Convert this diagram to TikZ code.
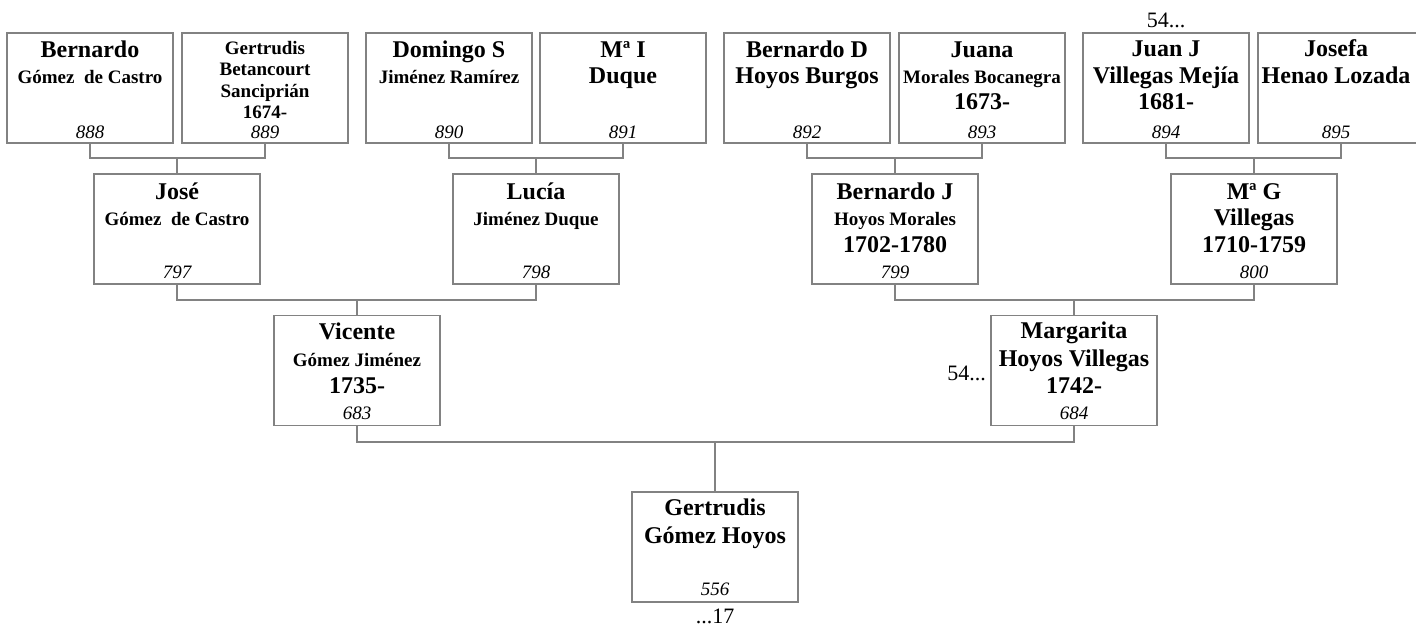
\documentclass[tikz,border=0pt]{standalone}
\usepackage{fontspec}
\setmainfont{Liberation Serif}
\definecolor{edge}{RGB}{130,130,130}
\tikzset{
  pbox/.style={draw=edge,line width=1.4pt,minimum width=166pt,minimum height=110pt,inner sep=0pt,fill=white},
  big/.style={font=\fontsize{24}{26}\selectfont\bfseries,anchor=base,inner sep=0pt},
  small/.style={font=\fontsize{19}{21}\selectfont\bfseries,anchor=base,inner sep=0pt},
  num/.style={font=\fontsize{19}{21}\selectfont\itshape,anchor=base,inner sep=0pt},
  plain/.style={font=\fontsize{22}{24}\selectfont,anchor=base,inner sep=0pt},
  conn/.style={draw=edge,line width=1.4pt}
}
\begin{document}
\begin{tikzpicture}[x=1pt,y=-1pt]
\useasboundingbox (0,0) rectangle (1416,626);
% ---- row 1
\node[pbox] (p888) at (90,88) {};
\node[pbox] (p889) at (265,88) {};
\node[pbox] (p890) at (449,88) {};
\node[pbox] (p891) at (623,88) {};
\node[pbox] (p892) at (807,88) {};
\node[pbox] (p893) at (982,88) {};
\node[pbox] (p894) at (1166,88) {};
\node[pbox] (p895) at (1341,88) {};
% ---- row 2
\node[pbox] (p797) at (177,229) {};
\node[pbox] (p798) at (536,229) {};
\node[pbox] (p799) at (895,229) {};
\node[pbox] (p800) at (1254,229) {};
% ---- row 3
\node[pbox] (p683) at (357,370.5) {};
\node[pbox] (p684) at (1074,370.5) {};
% ---- row 4
\node[pbox] (p556) at (715,547) {};
% ---- junctions
\coordinate (j1) at (177,158);
\coordinate (j2) at (536,158);
\coordinate (j3) at (895,158);
\coordinate (j4) at (1254,158);
\coordinate (j5) at (357,300);
\coordinate (j6) at (1074,300);
\coordinate (j7) at (715,442);
\draw[conn] (p888.south) |- (j1) -| (p889.south);
\draw[conn] (j1) -- (p797.north);
\draw[conn] (p890.south) |- (j2) -| (p891.south);
\draw[conn] (j2) -- (p798.north);
\draw[conn] (p892.south) |- (j3) -| (p893.south);
\draw[conn] (j3) -- (p799.north);
\draw[conn] (p894.south) |- (j4) -| (p895.south);
\draw[conn] (j4) -- (p800.north);
\draw[conn] (p797.south) |- (j5) -| (p798.south);
\draw[conn] (j5) -- (p683.north);
\draw[conn] (p799.south) |- (j6) -| (p800.south);
\draw[conn] (j6) -- (p684.north);
\draw[conn] (p683.south) |- (j7) -| (p684.south);
\draw[conn] (j7) -- (p556.north);
% ---- texts row 1
\node[big] (t888a) at (90,58) {Bernardo};
\node[small] (t888b) at (90,83) {Gómez\ \ de Castro};
\node[num] (t888n) at (90,138) {888};
\node[small] (t889a) at (265,55) {Gertrudis};
\node[small] (t889b) at (265,76) {Betancourt};
\node[small] (t889c) at (265,97) {Sanciprián};
\node[small] (t889d) at (265,118) {1674-};
\node[num] (t889n) at (265,138) {889};
\node[big] (t890a) at (449,58) {Domingo S};
\node[small] (t890b) at (449,83) {Jiménez Ramírez};
\node[num] (t890n) at (449,138) {890};
\node[big] (t891a) at (623,58) {Mª I};
\node[big] (t891b) at (623,83) {Duque};
\node[num] (t891n) at (623,138) {891};
\node[big] (t892a) at (807,58) {Bernardo D};
\node[big] (t892b) at (807,83) {Hoyos Burgos};
\node[num] (t892n) at (807,138) {892};
\node[big] (t893a) at (982,58) {Juana};
\node[small] (t893b) at (982,83) {Morales Bocanegra};
\node[big] (t893c) at (982,110) {1673-};
\node[num] (t893n) at (982,138) {893};
\node[big] (t894a) at (1166,57) {Juan J};
\node[big] (t894b) at (1166,83) {Villegas Mejía};
\node[big] (t894c) at (1166,110) {1681-};
\node[num] (t894n) at (1166,138) {894};
\node[plain] (t894x) at (1166,28) {54...};
\node[big] (t895a) at (1336,57) {Josefa};
\node[big] (t895b) at (1336,83) {Henao Lozada};
\node[num] (t895n) at (1336,138) {895};
% ---- texts row 2
\node[big] (t797a) at (177,199) {José};
\node[small] (t797b) at (177,225) {Gómez\ \ de Castro};
\node[num] (t797n) at (177,278) {797};
\node[big] (t798a) at (536,199) {Lucía};
\node[small] (t798b) at (536,225) {Jiménez Duque};
\node[num] (t798n) at (536,278) {798};
\node[big] (t799a) at (895,199) {Bernardo J};
\node[small] (t799b) at (895,225) {Hoyos Morales};
\node[big] (t799c) at (895,252) {1702-1780};
\node[num] (t799n) at (895,278) {799};
\node[big] (t800a) at (1254,199) {Mª G};
\node[big] (t800b) at (1254,225) {Villegas};
\node[big] (t800c) at (1254,252) {1710-1759};
\node[num] (t800n) at (1254,278) {800};
% ---- texts row 3
\node[big] (t683a) at (357,339) {Vicente};
\node[small] (t683b) at (357,366) {Gómez Jiménez};
\node[big] (t683c) at (357,393) {1735-};
\node[num] (t683n) at (357,419) {683};
\node[big] (t684a) at (1074,338) {Margarita};
\node[big] (t684b) at (1074,366) {Hoyos Villegas};
\node[big] (t684c) at (1074,393) {1742-};
\node[num] (t684n) at (1074,419) {684};
\node[plain,anchor=base east] (t684x) at (986,380) {54...};
% ---- texts row 4
\node[big] (t556a) at (715,515) {Gertrudis};
\node[big] (t556b) at (715,543) {Gómez Hoyos};
\node[num] (t556n) at (715,595) {556};
\node[plain] (t556x) at (715,623) {...17};
\end{tikzpicture}
\end{document}
